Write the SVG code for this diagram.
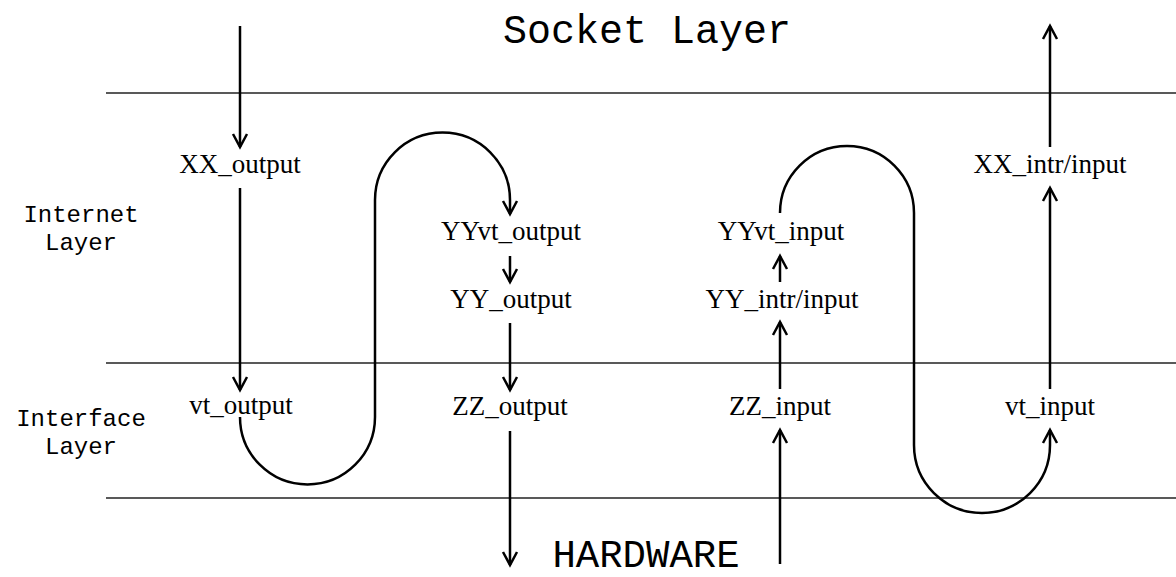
<svg xmlns="http://www.w3.org/2000/svg" width="1176" height="577" viewBox="0 0 1176 577">
<style>
.layer{stroke:#222;stroke-width:1.3;fill:none}
.conn{stroke:#000;stroke-width:2.5;fill:none}
.lbl{font-family:"Liberation Serif","Times New Roman",serif;font-size:27px;fill:#000;text-anchor:middle}
.mono{font-family:"Liberation Mono","Courier New",monospace;fill:#000;text-anchor:middle}
.side{font-size:24px}
</style>
<defs>
<marker id="ah" markerUnits="userSpaceOnUse" markerWidth="20" markerHeight="20" refX="14" refY="8" orient="auto" overflow="visible">
<path d="M1,1 L14,8 L1,15" fill="none" stroke="#000" stroke-width="2.5"/>
</marker>
</defs>
<g id="layers">
<line class="layer" x1="106" y1="93" x2="1176" y2="93"/>
<line class="layer" x1="106" y1="363" x2="1176" y2="363"/>
<line class="layer" x1="106" y1="498" x2="1176" y2="498"/>
</g>
<g id="socket-layer"><text class="mono" x="647" y="43" font-size="40">Socket Layer</text></g>
<g id="hardware"><text class="mono" x="646" y="567" font-size="39">HARDWARE</text></g>
<g id="internet-layer"><text class="mono side" x="81" y="222">Internet</text><text class="mono side" x="81" y="250">Layer</text></g>
<g id="interface-layer"><text class="mono side" x="81" y="426">Interface</text><text class="mono side" x="81" y="454">Layer</text></g>
<g id="xx-output"><text class="lbl" x="240" y="173">XX_output</text></g>
<g id="vt-output"><text class="lbl" x="241" y="414">vt_output</text></g>
<g id="yyvt-output"><text class="lbl" x="511" y="240">YYvt_output</text></g>
<g id="yy-output"><text class="lbl" x="511" y="308">YY_output</text></g>
<g id="zz-output"><text class="lbl" x="510" y="415">ZZ_output</text></g>
<g id="zz-input"><text class="lbl" x="780" y="415">ZZ_input</text></g>
<g id="yy-intr-input"><text class="lbl" x="782" y="308">YY_intr/input</text></g>
<g id="yyvt-input"><text class="lbl" x="781" y="240">YYvt_input</text></g>
<g id="vt-input"><text class="lbl" x="1050" y="415">vt_input</text></g>
<g id="xx-intr-input"><text class="lbl" x="1050" y="173">XX_intr/input</text></g>
<g id="connectors">
<line class="conn" x1="240" y1="26" x2="240" y2="147" marker-end="url(#ah)"/>
<line class="conn" x1="240" y1="188" x2="240" y2="390" marker-end="url(#ah)"/>
<path class="conn" d="M240,418 L240,417 A67.5,67.5 0 0 0 375,417 L375,200 A67.5,67.5 0 0 1 510,200 L510,214" marker-end="url(#ah)"/>
<line class="conn" x1="510" y1="256" x2="510" y2="282" marker-end="url(#ah)"/>
<line class="conn" x1="510" y1="323" x2="510" y2="390" marker-end="url(#ah)"/>
<line class="conn" x1="510" y1="431" x2="510" y2="565" marker-end="url(#ah)"/>
<line class="conn" x1="780" y1="564" x2="780" y2="430" marker-end="url(#ah)"/>
<line class="conn" x1="780" y1="389" x2="780" y2="322" marker-end="url(#ah)"/>
<line class="conn" x1="780" y1="282" x2="780" y2="256" marker-end="url(#ah)"/>
<path class="conn" d="M780,213 A67,67 0 0 1 914,213 L914,445 A68,68 0 0 0 1050,445 L1050,430" marker-end="url(#ah)"/>
<line class="conn" x1="1050" y1="389" x2="1050" y2="188" marker-end="url(#ah)"/>
<line class="conn" x1="1050" y1="147" x2="1050" y2="26" marker-end="url(#ah)"/>
</g>
</svg>
